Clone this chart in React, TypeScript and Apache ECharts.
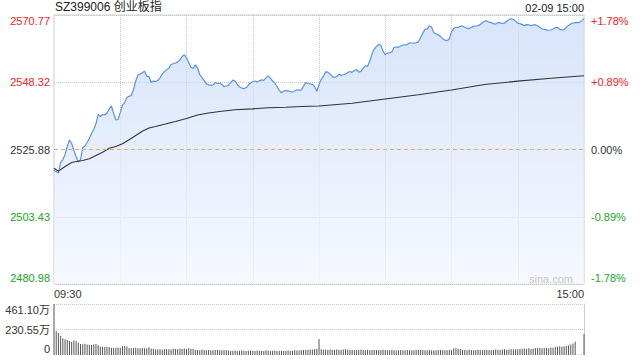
import React, { useEffect, useRef } from "react";
import * as echarts from "echarts";

const FONT = '"Liberation Sans", Arial, "Noto Sans CJK SC", sans-serif';
const RED = "#f52222";
const GREEN = "#22a522";
const DARK = "#333333";

const titleText = "SZ399006 创业板指";
const timeText = "02-09 15:00";

const basePrice = 2525.88;
const priceMin = 2480.98;
const priceMax = 2570.77;
const leftTickLabels = ["2480.98", "2503.43", "2525.88", "2548.32", "2570.77"];
const rightTickLabels = ["-1.78%", "-0.89%", "0.00%", "+0.89%", "+1.78%"];
const volMax = 461.1;
const volTickLabels = ["0", "230.55万", "461.10万"];
const timeTickLabels = ["09:30", "15:00"];

// minute-by-minute index price (241 points: 09:30-11:30, 13:01-15:00)
const prices = [
  2518.87, 2518.54, 2518.04, 2521.54, 2522.44, 2524.21, 2526.88, 2529.05, 2527.88, 2525.54,
  2523.54, 2521.71, 2522.48, 2526.55, 2527.05, 2528.21, 2529.55, 2531.21, 2532.55, 2534.45,
  2537.55, 2536.88, 2537.55, 2537.38, 2538.05, 2539.39, 2540.45, 2537.88, 2535.72, 2535.88,
  2538.22, 2540.72, 2541.55, 2543.22, 2543.62, 2543.89, 2545.89, 2548.72, 2550.69, 2551.06,
  2551.46, 2551.96, 2550.39, 2550.22, 2548.22, 2548.72, 2548.56, 2548.89, 2549.79, 2551.06,
  2551.89, 2552.46, 2553.03, 2554.23, 2554.49, 2554.73, 2555.13, 2555.69, 2556.89, 2557.49,
  2556.39, 2554.89, 2553.33, 2552.89, 2554.13, 2553.06, 2550.89, 2549.89, 2548.89, 2547.79,
  2547.46, 2547.29, 2547.46, 2548.22, 2547.89, 2548.06, 2547.56, 2546.89, 2547.06, 2547.29,
  2548.22, 2549.06, 2548.69, 2547.56, 2546.79, 2546.42, 2546.12, 2546.56, 2547.39, 2548.06,
  2548.56, 2548.72, 2548.39, 2548.79, 2549.12, 2548.96, 2549.79, 2550.46, 2549.72, 2548.72,
  2548.06, 2546.89, 2545.55, 2544.82, 2545.39, 2545.52, 2545.42, 2545.22, 2545.05, 2545.39,
  2545.79, 2545.69, 2545.79, 2547.06, 2548.22, 2547.99, 2547.79, 2547.66, 2546.89, 2545.32,
  2547.56, 2549.22, 2550.39, 2551.79, 2551.69, 2551.06, 2550.29, 2549.89, 2550.22, 2551.06,
  2550.62, 2550.82, 2551.06, 2551.56, 2551.89, 2551.62, 2552.22, 2552.56, 2551.72, 2551.96,
  2553.06, 2553.83, 2553.63, 2555.39, 2557.73, 2559.4, 2560.23, 2560.96, 2560.56, 2558.73,
  2557.56, 2558.06, 2558.16, 2558.39, 2560.0, 2560.06, 2560.03, 2560.4, 2560.76, 2560.83,
  2560.9, 2561.5, 2561.43, 2561.36, 2561.5, 2561.73, 2563.23, 2564.63, 2566.0, 2566.13,
  2567.23, 2566.67, 2564.8, 2564.53, 2564.13, 2563.66, 2562.9, 2562.36, 2562.23, 2562.73,
  2565.23, 2566.23, 2566.67, 2566.6, 2567.0, 2567.1, 2566.67, 2566.37, 2566.23, 2566.67,
  2566.97, 2567.1, 2567.23, 2567.57, 2568.17, 2568.73, 2568.8, 2568.33, 2568.27, 2567.9,
  2567.73, 2568.3, 2568.17, 2568.0, 2568.07, 2568.67, 2569.23, 2569.53, 2569.3, 2568.73,
  2568.03, 2567.9, 2567.57, 2567.23, 2567.57, 2567.47, 2567.23, 2567.4, 2567.53, 2567.17,
  2566.63, 2566.17, 2565.97, 2565.8, 2565.67, 2565.77, 2566.1, 2566.57, 2566.63, 2566.03,
  2565.8, 2565.9, 2566.7, 2567.3, 2567.8, 2568.1, 2568.23, 2568.2, 2568.3, 2568.9,
  2569.57,
];

// average price line, read at [minute index, value]
const avgPoints = [
  [0, 2519.64], [2, 2518.64], [5, 2520.21], [8, 2521.54], [10, 2521.88], [13, 2522.21],
  [16, 2522.78], [19, 2523.88], [22, 2524.98], [25, 2526.31], [28, 2526.88], [31, 2527.78],
  [34, 2529.11], [37, 2530.55], [40, 2531.98], [43, 2533.05], [46, 2533.55], [50, 2534.28],
  [55, 2535.22], [60, 2536.22], [65, 2537.38], [70, 2538.08], [75, 2538.55], [82, 2539.12],
  [90, 2539.45], [97, 2539.79], [105, 2539.99], [112, 2540.22], [120, 2540.39], [135, 2541.32],
  [150, 2542.75], [165, 2544.15], [180, 2545.72], [195, 2547.56], [210, 2548.69], [225, 2549.66],
  [240, 2550.49],
];

// volume per minute, in 万
const volumes = [
  461.1, 217, 199, 175, 151, 142, 136, 127, 120, 130, 127, 111,
  100, 98, 102, 95, 92, 90, 94, 100, 88,
  76, 74, 72, 75, 70,
  66, 64, 66, 68, 65,
  78, 82, 76,
  64, 62, 63, 65, 60, 62, 64, 61,
  60, 70, 58, 57,
  52, 50, 53, 48, 51,
  55, 52, 50, 56, 54, 53, 58, 55,
  58, 57, 60, 56, 55,
  46, 45, 44, 47, 45, 43, 46, 44, 42, 45, 46, 43, 44, 42, 45,
  40, 38, 39, 41, 37, 39, 40, 38, 36, 39, 41, 38, 37, 40, 39, 38, 37, 42, 39, 36, 38, 40, 37, 39, 38, 36, 38, 40, 37, 39,
  42, 40, 44, 43, 46, 45, 48, 50, 47, 52, 55,
  145,
  52, 48, 50, 46, 49, 47, 45, 50, 48, 46, 49, 51, 47, 45, 48, 46, 44, 47, 49, 45, 46, 48, 44, 46, 47, 45, 43, 46, 48, 45,
  44, 42, 45, 43, 41, 44, 46, 43, 42, 45, 44, 42, 43, 46, 48, 47, 45, 44, 43, 45, 42, 44, 43, 45, 46, 44, 42, 43, 45, 44,
  58, 60, 56, 55,
  46, 45, 44, 47, 45, 43, 46, 48, 45, 44, 46, 47, 45, 44, 48, 50, 47, 46, 49, 51, 48, 50, 52, 49, 51, 53, 54,
  56, 58, 57, 60, 55, 59, 62,
  63, 65, 61, 64, 66, 62, 68, 65,
  72, 75, 78, 74, 80, 82,
  85, 95, 105, 120,
  3, 3, 3,
  190,
];

function pad2(n: number) {
  return (n < 10 ? "0" : "") + n;
}
const times: string[] = [];
for (let m = 9 * 60 + 30; m <= 11 * 60 + 30; m++) times.push(pad2(Math.floor(m / 60)) + ":" + pad2(m % 60));
for (let m = 13 * 60 + 1; m <= 15 * 60; m++) times.push(pad2(Math.floor(m / 60)) + ":" + pad2(m % 60));
const lastIdx = times.length - 1;

export default function App() {
  const ref = useRef<HTMLDivElement>(null);
  useEffect(() => {
    if (!ref.current) return;
    const chart = echarts.init(ref.current, undefined, { renderer: "svg" });
    const step = (priceMax - priceMin) / 4;
    const tickIdx = (v: number) => Math.round((v - priceMin) / step);
    const labelRich = {
      upTop: { color: RED, fontSize: 11, fontFamily: FONT, padding: [11, 0, 0, 0] },
      up: { color: RED, fontSize: 11, fontFamily: FONT },
      zero: { color: DARK, fontSize: 11, fontFamily: FONT },
      down: { color: GREEN, fontSize: 11, fontFamily: FONT },
      downBottom: { color: GREEN, fontSize: 11, fontFamily: FONT, padding: [0, 0, 12, 0] },
      vTop: { color: DARK, fontSize: 11, fontFamily: FONT, padding: [12, 0, 0, 0] },
      vMid: { color: DARK, fontSize: 11, fontFamily: FONT },
      vBottom: { color: DARK, fontSize: 11, fontFamily: FONT, padding: [0, 0, 12, 0] },
    };
    const styleNames = ["downBottom", "down", "zero", "up", "upTop"];
    const xData = times.map((t, i) =>
      i === 0
        ? { value: t, textStyle: { align: "left" } }
        : i === lastIdx
        ? { value: t, textStyle: { align: "right" } }
        : t
    );
    const option: any = {
      animation: false,
      backgroundColor: "#ffffff",
      title: [
        {
          text: titleText,
          left: 55,
          top: 1,
          padding: 0,
          textStyle: { fontSize: 12, fontWeight: "normal", color: "#222", fontFamily: FONT },
        },
        {
          text: timeText,
          right: 56,
          top: 2,
          padding: 0,
          textStyle: { fontSize: 11, fontWeight: "normal", color: "#222", fontFamily: FONT },
        },
      ],
      grid: [
        { left: 54, top: 15, width: 530, height: 269, show: true, borderColor: "#cccccc", borderWidth: 1, backgroundColor: "transparent" },
        { left: 54, top: 304, width: 530, height: 51 },
      ],
      xAxis: [
        {
          type: "category",
          gridIndex: 0,
          data: xData,
          boundaryGap: false,
          axisLine: { show: false },
          axisTick: { show: false },
          axisLabel: {
            interval: (i: number, v: string) => timeTickLabels.indexOf(v) >= 0 && (i === 0 || i === lastIdx),
            margin: 4,
            color: DARK,
            fontSize: 11,
            fontFamily: FONT,
          },
          splitLine: {
            show: true,
            interval: (i: number) => i % 30 === 0 && i > 0 && i < lastIdx,
            lineStyle: { type: "dotted", color: "#c8c8c8", width: 1 },
          },
        },
        {
          type: "category",
          gridIndex: 1,
          data: times,
          boundaryGap: false,
          axisLine: { show: false },
          axisTick: { show: false },
          axisLabel: { show: false },
          splitLine: { show: false },
        },
      ],
      yAxis: [
        {
          type: "value",
          gridIndex: 0,
          position: "left",
          min: priceMin,
          max: priceMax,
          interval: step,
          axisLine: { show: false },
          axisTick: { show: false },
          axisLabel: {
            margin: 4,
            formatter: (v: number) => {
              const k = tickIdx(v);
              return "{" + styleNames[k] + "|" + leftTickLabels[k] + "}";
            },
            rich: labelRich,
          },
          splitLine: {
            show: true,
            lineStyle: {
              type: "dotted",
              color: ["#c8c8c8", "#c8c8c8", "rgba(0,0,0,0)", "#c8c8c8", "#c8c8c8"],
              width: 1,
            },
          },
        },
        {
          type: "value",
          gridIndex: 0,
          position: "right",
          min: priceMin,
          max: priceMax,
          interval: step,
          axisLine: { show: false },
          axisTick: { show: false },
          axisLabel: {
            margin: 7,
            formatter: (v: number) => {
              const k = tickIdx(v);
              return "{" + styleNames[k] + "|" + rightTickLabels[k] + "}";
            },
            rich: labelRich,
          },
          splitLine: { show: false },
        },
        {
          type: "value",
          gridIndex: 1,
          position: "left",
          min: 0,
          max: volMax,
          interval: volMax / 2,
          axisLine: { show: false },
          axisTick: { show: false },
          axisLabel: {
            margin: 4,
            formatter: (v: number) => {
              const k = Math.round(v / (volMax / 2));
              const s = ["vBottom", "vMid", "vTop"][k];
              return "{" + s + "|" + volTickLabels[k] + "}";
            },
            rich: labelRich,
          },
          splitLine: {
            show: true,
            lineStyle: { type: "dotted", color: ["rgba(0,0,0,0)", "#c8c8c8", "#c8c8c8"], width: 1 },
          },
        },
        {
          type: "value",
          gridIndex: 1,
          position: "right",
          min: 0,
          max: volMax,
          interval: volMax / 2,
          axisLine: { show: true, lineStyle: { color: "#cccccc", width: 1 } },
          axisTick: { show: false },
          axisLabel: { show: false },
          splitLine: { show: false },
        },
      ],
      series: [
        {
          type: "line",
          xAxisIndex: 0,
          yAxisIndex: 0,
          data: prices,
          symbol: "none",
          showSymbol: false,
          lineStyle: { color: "#5a92ee", width: 1.2 },
          areaStyle: {
            origin: "start",
            color: new echarts.graphic.LinearGradient(0, 0, 0, 1, [
              { offset: 0, color: "#c6d9f8" },
              { offset: 1, color: "#f2f6fe" },
            ]),
          },
          markLine: {
            silent: true,
            symbol: "none",
            label: { show: false },
            lineStyle: { color: "#f0a27c", type: [4, 3], width: 1 },
            data: [{ yAxis: basePrice }],
          },
          z: 2,
        },
        {
          type: "line",
          xAxisIndex: 0,
          yAxisIndex: 0,
          data: avgPoints,
          symbol: "none",
          showSymbol: false,
          lineStyle: { color: "#333333", width: 1.1 },
          z: 3,
        },
        {
          type: "bar",
          xAxisIndex: 1,
          yAxisIndex: 2,
          data: volumes,
          barWidth: 1,
          itemStyle: { color: "#555555" },
        },
      ],
      graphic: [
        {
          type: "text",
          right: 67,
          top: 273,
          style: { text: "sina.com", fill: "#c8c8c8", fontSize: 11, fontFamily: FONT },
          z: 10,
        },
      ],
    };
    chart.setOption(option);
    return () => chart.dispose();
  }, []);
  return (
    <div
      ref={ref}
      style={{ position: "fixed", left: 0, top: 0, width: 640, height: 360, background: "#fff" }}
    />
  );
}
